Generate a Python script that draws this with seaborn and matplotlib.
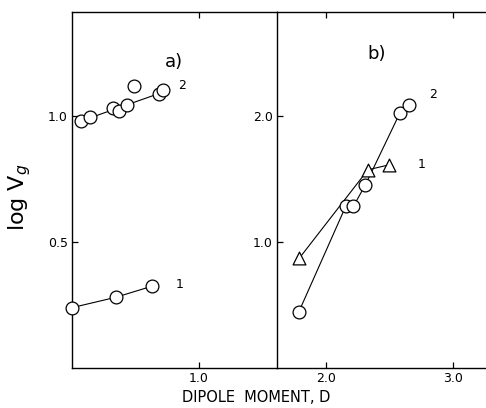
import numpy as np
import pandas as pd
import matplotlib
matplotlib.use("Agg")
import matplotlib.pyplot as plt
import seaborn as sns

# Panel a): log Vg vs dipole moment
a_x1 = [0.0, 0.344, 0.63]
a_y1 = [0.239, 0.28, 0.324]
a_x2 = [0.071, 0.142, 0.325, 0.37, 0.43, 0.49, 0.688, 0.714]
a_y2 = [0.98, 0.995, 1.028, 1.017, 1.04, 1.115, 1.085, 1.10]
a_fit_mask = [True, True, True, True, True, False, True, True]

# Panel b)
b_x1 = [1.79, 2.33, 2.50]
b_y1 = [0.87, 1.57, 1.61]
b_x2 = [1.787, 2.155, 2.215, 2.31, 2.58, 2.654]
b_y2 = [0.447, 1.28, 1.28, 1.45, 2.016, 2.087]

x_ticks_a = [1.0]
x_ticks_b = [2.0, 3.0]
y_ticks_a = [0.5, 1.0]
y_ticks_b = [1.0, 2.0]

sns.set_style("ticks")
plt.rcParams["font.family"] = ["DejaVu Sans"]
plt.rcParams["text.color"] = "black"

W, H = 486, 408
fig = plt.figure(figsize=(W / 100, H / 100), dpi=100)
ax1 = fig.add_axes([72 / W, 1 - 368 / H, (277 - 72) / W, (368 - 12) / H])
ax2 = fig.add_axes([277 / W, 1 - 368 / H, (486 - 277) / W, (368 - 12) / H])

mk = dict(facecolor="white", edgecolor="black", linewidth=0.9, s=85, zorder=3, clip_on=False)
ln = dict(color="black", linewidth=0.8, zorder=2)

# panel a
sns.lineplot(x=a_x1, y=a_y1, ax=ax1, sort=False, **ln)
sns.scatterplot(x=a_x1, y=a_y1, ax=ax1, marker="o", **mk)
fx = np.array(a_x2)[a_fit_mask]
fy = np.array(a_y2)[a_fit_mask]
k, b = np.polyfit(fx, fy, 1)
xs = np.array([fx.min(), fx.max()])
sns.lineplot(x=xs, y=k * xs + b, ax=ax1, **ln)
sns.scatterplot(x=a_x2, y=a_y2, ax=ax1, marker="o", **mk)

# panel b
sns.lineplot(x=b_x1, y=b_y1, ax=ax2, sort=False, **ln)
sns.lineplot(x=b_x2, y=b_y2, ax=ax2, sort=False, **ln)
sns.scatterplot(x=b_x2, y=b_y2, ax=ax2, marker="o", **mk)
sns.scatterplot(x=b_x1, y=b_y1, ax=ax2, marker="^", **mk)

ax1.set_xlim(0, 1.614)
ax1.set_ylim(0, 1.41)
ax2.set_xlim(1.614, 3.26)
ax2.set_ylim(0, 2.82)

for ax, xt, yt in ((ax1, x_ticks_a, y_ticks_a), (ax2, x_ticks_b, y_ticks_b)):
    ax.set_xticks(xt)
    ax.set_xticklabels([f"{v:.1f}" for v in xt])
    ax.set_yticks(yt)
    ax.set_yticklabels([f"{v:.1f}" for v in yt])
    ax.tick_params(axis="both", direction="in", length=4, width=0.9,
                   labelsize=9, pad=3, colors="black")
    ax.tick_params(axis="x", top=True, bottom=True)
    ax.set_xlabel("")
    ax.set_ylabel("")
    for s in ax.spines.values():
        s.set_linewidth(1.0)
        s.set_color("black")
    ax.set_facecolor("white")

ax1.spines["right"].set_visible(False)
ax2.spines["right"].set_visible(False)

# curve labels and panel tags
ax1.text(0.87, 1.12, "2", fontsize=9, ha="center", va="center")
ax1.text(0.85, 0.33, "1", fontsize=9, ha="center", va="center")
ax1.text(0.80, 1.21, "a)", fontsize=13, ha="center", va="center")
ax2.text(2.845, 2.165, "2", fontsize=9, ha="center", va="center")
ax2.text(2.75, 1.61, "1", fontsize=9, ha="center", va="center")
ax2.text(2.40, 2.49, "b)", fontsize=13, ha="center", va="center")

fig.text(256 / W, 1 - 398 / H, "DIPOLE  MOMENT, D", fontsize=10.5,
         ha="center", va="center")
fig.text(20 / W, 1 - 197 / H, r"log V$_g$", fontsize=16, rotation=90,
         ha="center", va="center")

fig.savefig("out.png", dpi=100, facecolor="white")
